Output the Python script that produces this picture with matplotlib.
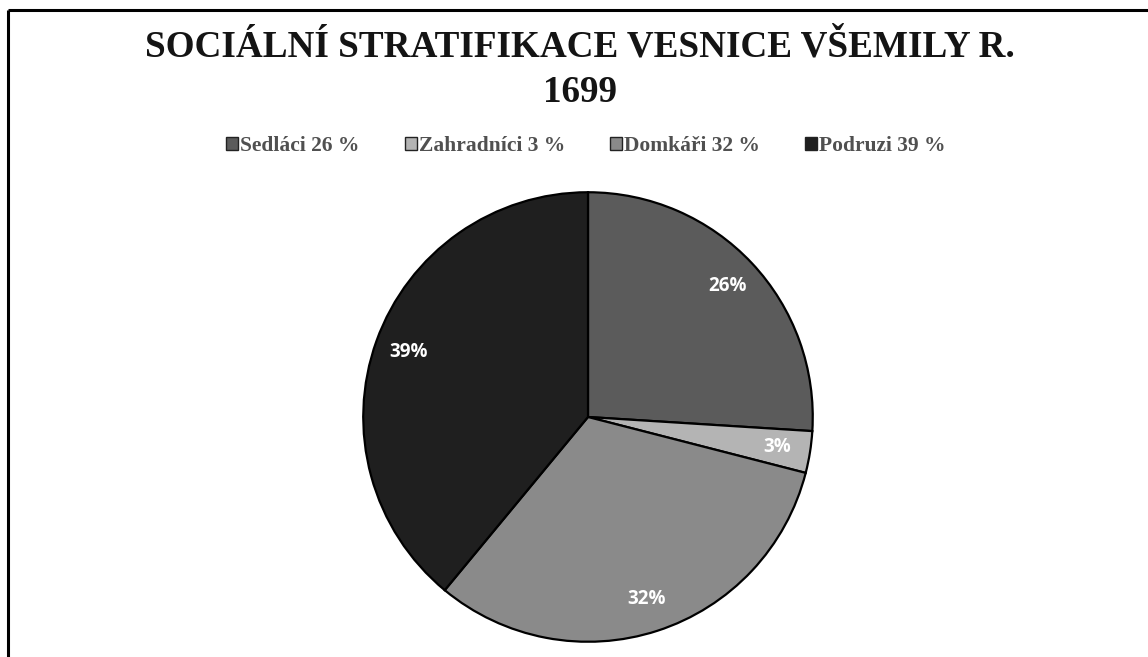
import matplotlib
matplotlib.use("Agg")
import matplotlib.pyplot as plt
from matplotlib.patches import Patch
from matplotlib.lines import Line2D

categories = ["Sedláci", "Zahradníci", "Domkáři", "Podruzi"]
values = [26, 3, 32, 39]
colors = ["#5b5b5b", "#b4b4b4", "#8a8a8a", "#1f1f1f"]
title_lines = ["SOCIÁLNÍ STRATIFIKACE VESNICE VŠEMILY R.", "1699"]

W, H = 1148, 657
fig = plt.figure(figsize=(W / 100, H / 100), dpi=100)
fig.patch.set_facecolor("white")

# pie axes
cx, cy, r = 588, 417, 227
ax = fig.add_axes([(cx - r) / W, (H - cy - r) / H, 2 * r / W, 2 * r / H])
wedges, texts, autotexts = ax.pie(
    values, colors=colors, startangle=90, counterclock=False,
    autopct=lambda p: f"{p:.0f}%", pctdistance=0.85, radius=1,
    wedgeprops=dict(edgecolor="black", linewidth=1.6),
    textprops=dict(color="white", fontsize=13.5, fontweight="bold", family="Open Sans"),
)
ax.set_xlim(-1.01, 1.01)
ax.set_ylim(-1.01, 1.01)
ax.set_aspect("equal")
ax.axis("off")

# title
for txt, ypix in zip(title_lines, [47, 92]):
    fig.text(580 / W, 1 - ypix / H, txt, ha="center", va="center",
             fontsize=26.7, fontweight="bold", family="Liberation Serif",
             color="#141414")

# legend
handles = [Patch(facecolor=c, edgecolor="#222222", linewidth=1.0) for c in colors]
labels = [f"{c} {v} %" for c, v in zip(categories, values)]
leg = fig.legend(handles, labels, loc="center", ncol=4,
                 bbox_to_anchor=(586 / W, 1 - 146 / H), frameon=False,
                 handlelength=0.55, handleheight=0.55, handletextpad=0.1,
                 columnspacing=2.1,
                 prop=dict(family="Liberation Serif", weight="bold", size=15.5))
for t in leg.get_texts():
    t.set_color("#505050")

# frame lines (left and top)
fig.add_artist(Line2D([8 / W, 8 / W], [0, 1 - 10 / H], transform=fig.transFigure,
                      color="black", linewidth=2.2, solid_capstyle="butt"))
fig.add_artist(Line2D([8 / W, 1], [1 - 10 / H, 1 - 10 / H], transform=fig.transFigure,
                      color="black", linewidth=2.2, solid_capstyle="butt"))

fig.savefig("out.png", dpi=100, facecolor="white")
